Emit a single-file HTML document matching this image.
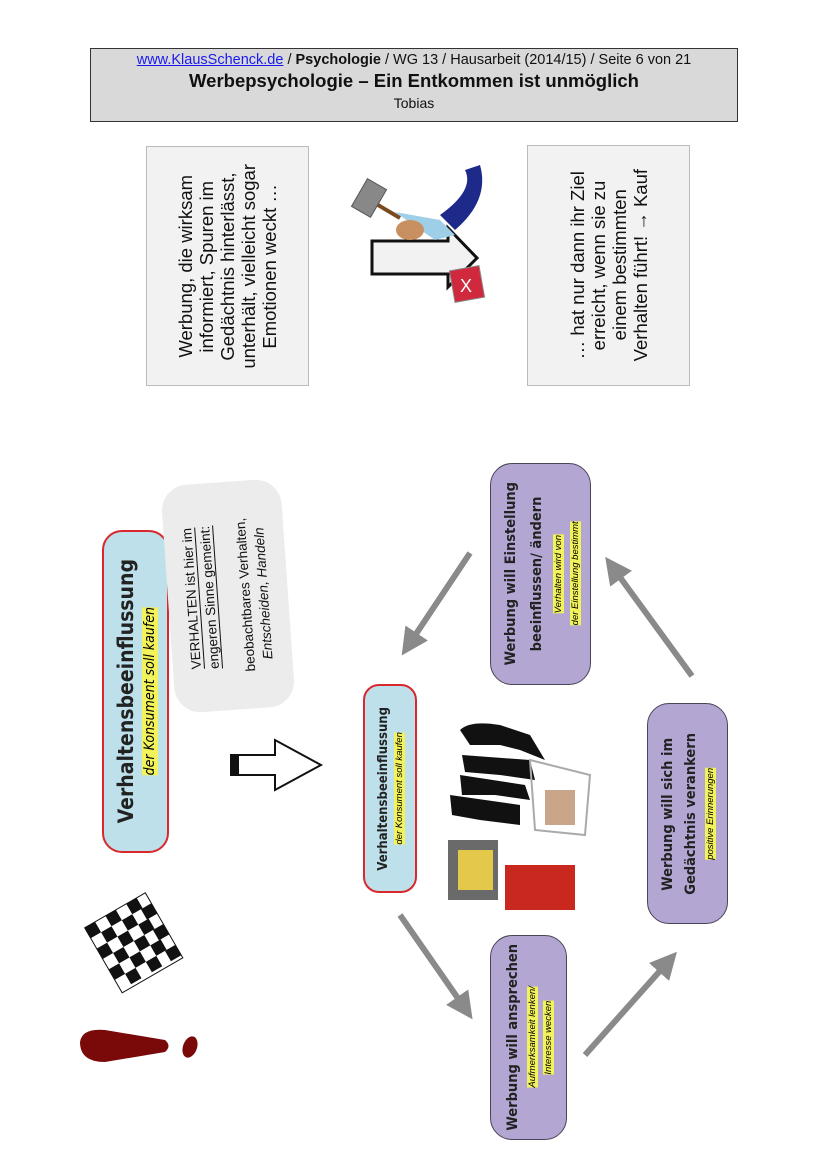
<!DOCTYPE html>
<html><head><meta charset="utf-8">
<style>
html,body{margin:0;padding:0;background:#fff;}
body{width:828px;height:1171px;position:relative;overflow:hidden;font-family:"Liberation Sans",sans-serif;}
.abs{position:absolute;box-sizing:border-box;}
.v{writing-mode:vertical-rl;transform:rotate(180deg);}
.box{display:flex;align-items:center;justify-content:center;}
.purple{background:#b3a6d2;border:1.5px solid #4a4458;border-radius:22px;}
.blue{background:#bde0ea;border:2px solid #d9282c;border-radius:16px;}
.hl{background:#f2f25a;font-style:italic;}
.b{font-family:"DejaVu Sans Condensed","DejaVu Sans",sans-serif;font-weight:bold;color:#222;}
</style></head><body>

<div class="abs" style="left:90px;top:48px;width:648px;height:74px;background:#d9d9d9;border:1.5px solid #333;text-align:center;color:#111;">
 <div style="font-size:14.5px;margin-top:3px;"><span style="color:#1a1aee;text-decoration:underline;">www.KlausSchenck.de</span> / <b>Psychologie</b> / WG 13 / Hausarbeit (2014/15) / Seite 6 von 21</div>
 <div style="font-size:18.5px;font-weight:bold;margin-top:2px;">Werbepsychologie – Ein Entkommen ist unmöglich</div>
 <div style="font-size:14px;margin-top:3px;">Tobias</div>
</div>

<div class="abs box" style="left:146px;top:146px;width:163px;height:240px;background:#f2f2f2;border:1px solid #bbb;">
 <div class="v" style="font-size:18.5px;line-height:21px;text-align:center;color:#111;">Werbung, die wirksam<br>informiert, Spuren im<br>Gedächtnis hinterlässt,<br>unterhält, vielleicht sogar<br>Emotionen weckt …</div>
</div>
<div class="abs box" style="left:527px;top:145px;width:163px;height:241px;background:#f2f2f2;border:1px solid #bbb;">
 <div class="v" style="font-size:18.5px;line-height:21px;text-align:center;color:#111;">… hat nur dann ihr Ziel<br>erreicht, wenn sie zu<br>einem bestimmten<br>Verhalten führt! → Kauf</div>
</div>

<svg class="abs" style="left:340px;top:150px;" width="150" height="160">
 <polygon points="32,91 108,91 108,78 137,108 108,137 108,124 32,124" fill="#f2f2f2" stroke="#111" stroke-width="3"/>
 <rect x="18" y="32" width="22" height="32" fill="#888" stroke="#555" transform="rotate(30 29 48)"/>
 <line x1="38" y1="55" x2="60" y2="68" stroke="#7a4a20" stroke-width="4"/>
 <path d="M55,62 L100,70 L115,85 L95,90 Z" fill="#9fcfe8"/>
 <ellipse cx="70" cy="80" rx="14" ry="10" fill="#c89060"/>
 <path d="M100,65 Q135,40 125,20 L140,15 Q150,50 115,80 Z" fill="#1e2a8a"/>
 <rect x="112" y="118" width="30" height="32" fill="#d0283c" stroke="#888" transform="rotate(-10 127 134)"/>
 <text x="120" y="142" font-size="18" fill="#fff" font-family="Liberation Sans">X</text>
</svg>

<div class="abs box blue" style="left:102px;top:530px;width:67px;height:323px;border-width:2.5px;border-radius:20px;">
 <div class="v" style="text-align:center;">
  <div class="b" style="font-size:21px;line-height:28px;">Verhaltensbeeinflussung</div>
  <div style="font-size:14px;line-height:20px;font-family:'DejaVu Sans Condensed','DejaVu Sans',sans-serif;"><span class="hl">der Konsument soll kaufen</span></div>
 </div>
</div>

<div class="abs box" style="left:168px;top:482px;width:120px;height:228px;background:#ececec;border-radius:26px;transform:rotate(-4deg);">
 <div class="v" style="font-size:13.5px;line-height:18px;text-align:center;color:#111;">
  <span style="text-decoration:underline;">VERHALTEN ist hier im<br>engeren Sinne gemeint:</span><br><span style="display:inline-block;width:6px"></span><br>beobachtbares Verhalten,<br><i>Entscheiden, Handeln</i>
 </div>
</div>

<svg class="abs" style="left:225px;top:735px;" width="100" height="60">
 <polygon points="6,20 50,20 50,5 96,30 50,55 50,40 6,40" fill="#fff" stroke="#111" stroke-width="2"/>
 <rect x="6" y="20" width="8" height="20" fill="#111"/>
</svg>

<div class="abs box blue" style="left:363px;top:684px;width:54px;height:209px;">
 <div class="v" style="text-align:center;">
  <div class="b" style="font-size:13px;line-height:19px;">Verhaltensbeeinflussung</div>
  <div style="font-size:9.5px;line-height:13px;"><span class="hl">der Konsument soll kaufen</span></div>
 </div>
</div>

<div class="abs box purple" style="left:490px;top:463px;width:101px;height:222px;">
 <div class="v" style="text-align:center;">
  <div class="b" style="font-size:14.5px;line-height:26px;">Werbung will Einstellung<br>beeinflussen/ ändern</div>
  <div style="font-size:9.5px;line-height:17px;"><span class="hl">Verhalten wird von</span><br><span class="hl">der Einstellung bestimmt</span></div>
 </div>
</div>
<div class="abs box purple" style="left:647px;top:703px;width:81px;height:221px;">
 <div class="v" style="text-align:center;">
  <div class="b" style="font-size:14.5px;line-height:23px;">Werbung will sich im<br>Gedächtnis verankern</div>
  <div style="font-size:9.5px;line-height:16px;"><span class="hl">positive Erinnerungen</span></div>
 </div>
</div>
<div class="abs box purple" style="left:490px;top:935px;width:77px;height:205px;">
 <div class="v" style="text-align:center;">
  <div class="b" style="font-size:14.5px;line-height:24px;">Werbung will ansprechen</div>
  <div style="font-size:9.5px;line-height:16px;"><span class="hl">Aufmerksamkeit lenken/</span><br><span class="hl">Interesse wecken</span></div>
 </div>
</div>

<svg class="abs" style="left:0;top:0;" width="828" height="1171">
 <defs><marker id="ah" markerWidth="4.5" markerHeight="4.5" refX="2" refY="2.25" orient="auto"><polygon points="0,0 4.5,2.25 0,4.5" fill="#8a8a8a"/></marker></defs>
 <g stroke="#8a8a8a" stroke-width="6" marker-end="url(#ah)">
  <line x1="470" y1="553" x2="410" y2="643"/>
  <line x1="692" y1="676" x2="614" y2="569"/>
  <line x1="400" y1="915" x2="464" y2="1007"/>
  <line x1="585" y1="1055" x2="667" y2="963"/>
 </g>
 <g fill="#111">
  <path d="M460,730 Q470,720 500,725 L530,735 L545,760 L520,750 L500,745 L470,745 Z"/>
  <path d="M462,755 L530,760 L535,780 L500,775 L465,772 Z"/>
  <path d="M460,775 L525,785 L530,800 L495,795 L462,795 Z"/>
  <path d="M450,795 L520,805 L520,825 L480,820 L452,815 Z"/>
 </g>
 <g stroke="#aaa" stroke-width="2" fill="none">
  <path d="M530,760 L590,775 L585,835 L535,830 Z"/>
 </g>
 <rect x="545" y="790" width="30" height="35" fill="#c9a58a"/>
 <rect x="448" y="840" width="50" height="60" fill="#6a6a6a"/>
 <rect x="458" y="850" width="35" height="40" fill="#e3c84a"/>
 <rect x="505" y="865" width="70" height="45" fill="#c8281e"/>
 <g transform="rotate(-30 135 945)">
  <rect x="100" y="905" width="70" height="75" fill="#fff" stroke="#111"/>
  <g fill="#111">
   <rect x="100" y="905" width="12" height="12"/><rect x="124" y="905" width="12" height="12"/><rect x="148" y="905" width="12" height="12"/>
   <rect x="112" y="917" width="12" height="12"/><rect x="136" y="917" width="12" height="12"/><rect x="158" y="917" width="12" height="12"/>
   <rect x="100" y="929" width="12" height="12"/><rect x="124" y="929" width="12" height="12"/><rect x="148" y="929" width="12" height="12"/>
   <rect x="112" y="941" width="12" height="12"/><rect x="136" y="941" width="12" height="12"/><rect x="158" y="941" width="12" height="12"/>
   <rect x="100" y="953" width="12" height="12"/><rect x="124" y="953" width="12" height="12"/><rect x="148" y="953" width="12" height="12"/>
   <rect x="112" y="965" width="12" height="12"/><rect x="136" y="965" width="12" height="12"/><rect x="158" y="965" width="12" height="12"/>
  </g>
 </g>
 <path d="M80,1042 Q82,1028 105,1030 L165,1040 Q172,1046 165,1052 L105,1062 Q80,1062 80,1042 Z" fill="#7a0a0a"/>
 <ellipse cx="190" cy="1047" rx="7" ry="11" fill="#7a0a0a" transform="rotate(20 190 1047)"/>
</svg>
</body></html>
